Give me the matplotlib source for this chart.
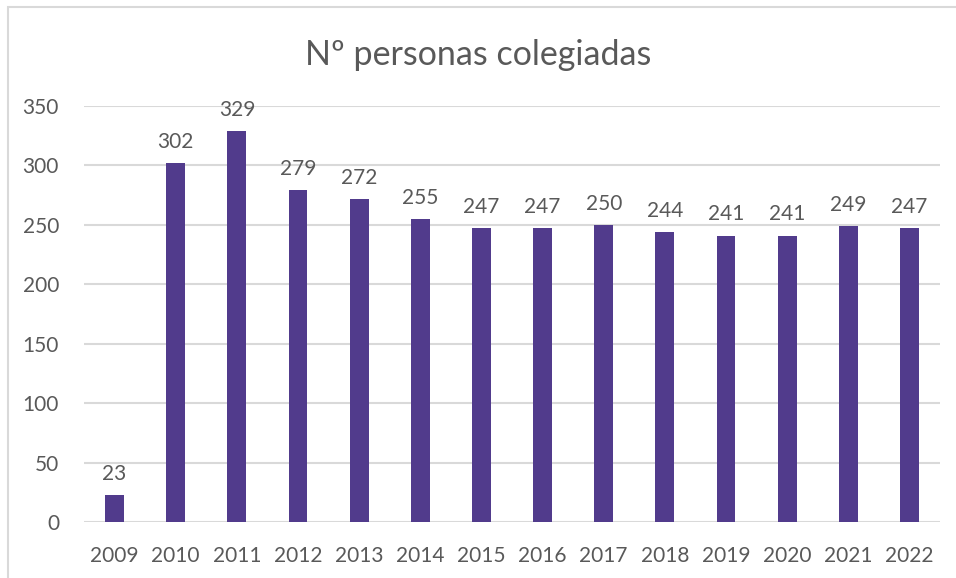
import matplotlib.pyplot as plt
from matplotlib.patches import Rectangle

years = ["2009", "2010", "2011", "2012", "2013", "2014", "2015",
         "2016", "2017", "2018", "2019", "2020", "2021", "2022"]
colegiadas = [23, 302, 329, 279, 272, 255, 247, 247, 250, 244, 241, 241, 249, 247]
yticks = [0, 50, 100, 150, 200, 250, 300, 350]

bar_color = "#513B8C"
text_color = "#595959"
grid_color = "#D9D9D9"

plt.rcParams["font.family"] = ["Lato", "DejaVu Sans"]

W, H = 956, 578
fig = plt.figure(figsize=(W / 100, H / 100), dpi=100)
ax = fig.add_axes([84 / W, 56 / H, (940 - 84) / W, (522 - 106) / H])

x = range(len(years))
bars = ax.bar(x, colegiadas, width=0.31, color=bar_color, zorder=3)

for xi, v in zip(x, colegiadas):
    ax.annotate(str(v), (xi, v), xytext=(0, 8), textcoords="offset points",
                ha="center", va="bottom", fontsize=15, color=text_color)

ax.set_xlim(-0.5, len(years) - 0.5)
ax.set_ylim(0, 350)
ax.set_yticks(yticks)
ax.set_xticks(list(x))
ax.set_xticklabels(years)
ax.tick_params(axis="both", length=0, labelsize=15, labelcolor=text_color)
ax.tick_params(axis="x", pad=17)
ax.tick_params(axis="y", pad=18)
ax.yaxis.grid(True, color=grid_color, linewidth=1.5, zorder=0)
for s in ax.spines.values():
    s.set_visible(False)

fig.text(0.5, 1 - 55 / H, "Nº personas colegiadas", ha="center", va="center",
         fontsize=24.5, color=text_color)

# chart frame (left and top edges visible)
fig.patches.append(Rectangle((8 / W, -0.1), 1.1, 1 - 7 / H + 0.1, transform=fig.transFigure,
                             fill=False, edgecolor=grid_color, linewidth=1.5))

fig.savefig("out.png", dpi=100)
